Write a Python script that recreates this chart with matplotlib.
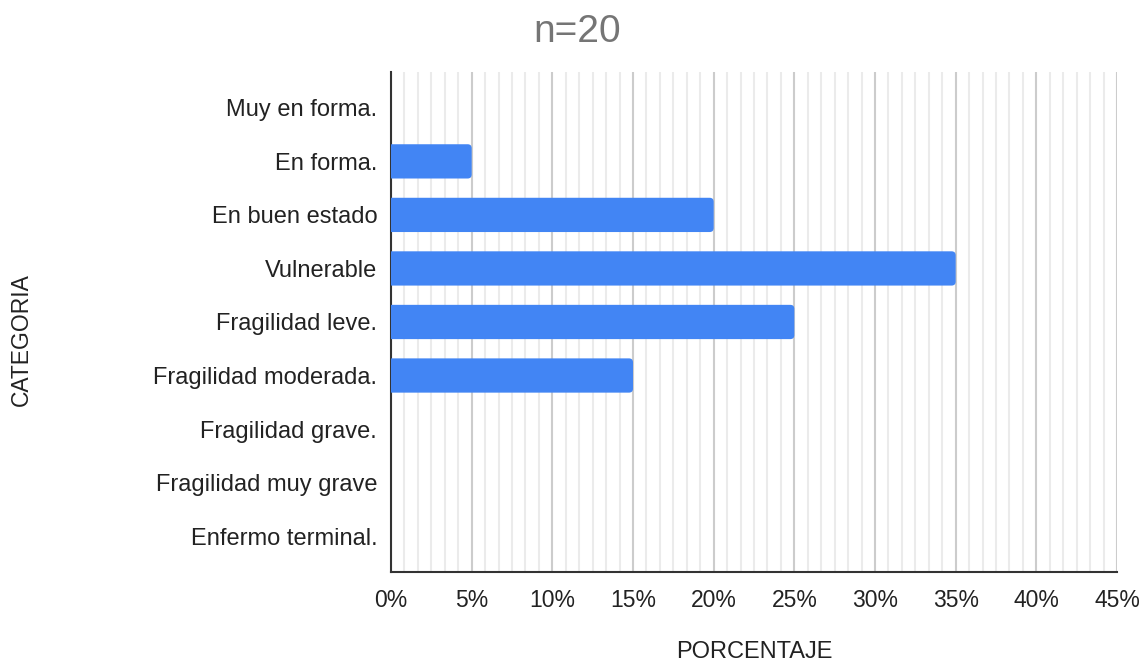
import matplotlib
matplotlib.use("Agg")
import matplotlib.pyplot as plt
from matplotlib.patches import FancyBboxPatch
from matplotlib.ticker import MultipleLocator, FuncFormatter

plt.rcParams['font.family'] = ['Liberation Sans', 'DejaVu Sans']

categories = ["Muy en forma.", "En forma.", "En buen estado", "Vulnerable",
              "Fragilidad leve.", "Fragilidad moderada.", "Fragilidad grave.",
              "Fragilidad muy grave", "Enfermo terminal."]
percentages = [0, 5, 20, 35, 25, 15, 0, 0, 0]
x_ticks = [0, 5, 10, 15, 20, 25, 30, 35, 40, 45]

fig = plt.figure(figsize=(11.42, 6.64), dpi=100)
ax = fig.add_axes([0.3424, 0.1386, 0.6357, 0.753])

positions = list(range(len(categories)))
bars = ax.barh(positions, percentages, height=0.64, color="#4285F4")

# Replace the plain rectangles with right-rounded bars (left end hidden past the axis)
for rect in bars:
    w = rect.get_width()
    if w <= 0:
        rect.set_visible(False)
        continue
    y0 = rect.get_y()
    h = rect.get_height()
    fb = FancyBboxPatch((-1, y0), w + 1, h,
                        boxstyle="round,pad=0,rounding_size=0.25",
                        mutation_aspect=0.3, facecolor="#4285F4",
                        edgecolor="none", zorder=3)
    fb.set_clip_path(ax.patch)
    ax.add_patch(fb)
    rect.set_visible(False)

ax.set_xlim(0, 45)
ax.set_ylim(len(categories) - 1 + 0.67, -0.67)
ax.set_yticks(positions)
ax.set_yticklabels(categories)
ax.set_xticks(x_ticks)
ax.xaxis.set_major_formatter(FuncFormatter(lambda v, p: f"{int(round(v))}%"))
ax.xaxis.set_minor_locator(MultipleLocator(5 / 6))

ax.grid(True, which="major", axis="x", color="#cccccc", linewidth=1.5, zorder=0)
ax.grid(True, which="minor", axis="x", color="#ebebeb", linewidth=1.5, zorder=0)
ax.set_axisbelow(True)

for s in ["top", "right"]:
    ax.spines[s].set_visible(False)
ax.spines["left"].set_color("#333333")
ax.spines["bottom"].set_color("#333333")
ax.spines["left"].set_linewidth(1.5)
ax.spines["bottom"].set_linewidth(1.5)

ax.tick_params(axis="both", which="both", length=0, labelcolor="#222222")
ax.tick_params(axis="y", pad=10, labelsize=17)
ax.tick_params(axis="x", pad=12, labelsize=16.5)

fig.text(0.505, 0.952, "n=20", ha="center", va="center", fontsize=28, color="#757575")
fig.text(0.661, 0.018, "PORCENTAJE", ha="center", va="center", fontsize=17, color="#222222")
fig.text(0.019, 0.488, "CATEGORIA", ha="center", va="center", fontsize=16.5,
         color="#222222", rotation=90)

fig.savefig("out.png", dpi=100)
